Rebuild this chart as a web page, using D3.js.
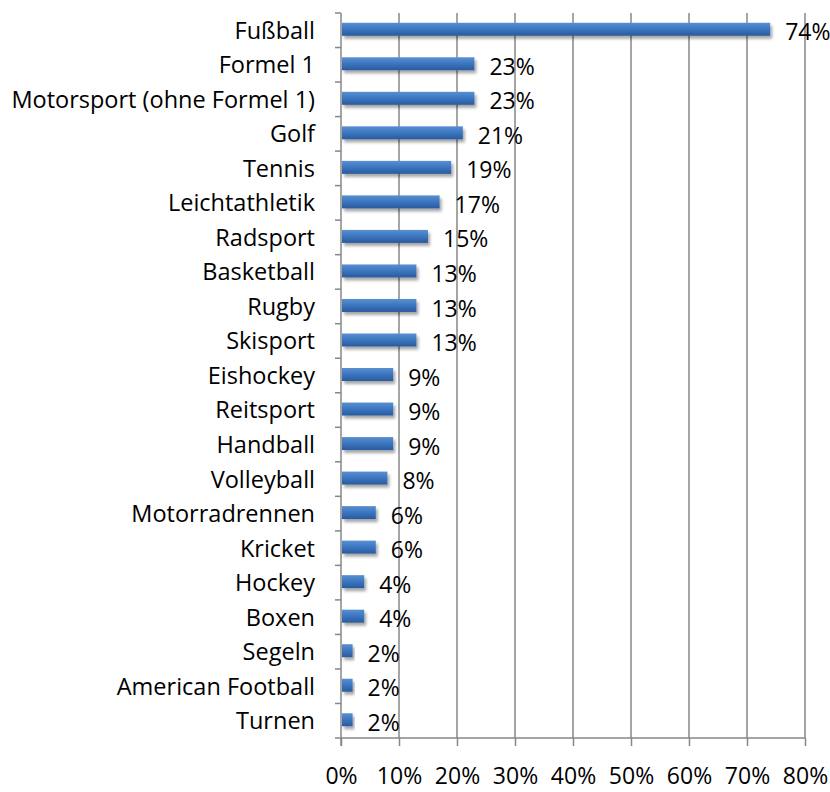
<!DOCTYPE html>
<html>
<head>
<meta charset="utf-8">
<script src="https://cdn.jsdelivr.net/npm/d3@7"></script>
<style>
  body { margin: 0; background: #fff; }
  svg text { font-family: "Open Sans", sans-serif; fill: #000; }
</style>
</head>
<body>
<div id="chart"></div>
<script>
// Sport categories, top to bottom.
var sports = ['Fußball', 'Formel 1', 'Motorsport (ohne Formel 1)', 'Golf', 'Tennis',
    'Leichtathletik', 'Radsport', 'Basketball', 'Rugby', 'Skisport', 'Eishockey',
    'Reitsport', 'Handball', 'Volleyball', 'Motorradrennen', 'Kricket', 'Hockey',
    'Boxen', 'Segeln', 'American Football', 'Turnen'];
var shares = [74, 23, 23, 21, 19, 17, 15, 13, 13, 13, 9, 9, 9, 8, 6, 6, 4, 4, 2, 2, 2];
var xTicks = [0, 10, 20, 30, 40, 50, 60, 70, 80];

var width = 830, height = 792;
var margin = {top: 13, right: 25, bottom: 54, left: 341};
var fontSize = '23px';

var svg = d3.select('#chart').append('svg')
    .attr('width', width)
    .attr('height', height);

var defs = svg.append('defs');
var grad = defs.append('linearGradient')
    .attr('id', 'barGrad')
    .attr('x1', 0).attr('y1', 0).attr('x2', 0).attr('y2', 1);
grad.append('stop').attr('offset', '0%').attr('stop-color', '#5a8fd2');
grad.append('stop').attr('offset', '45%').attr('stop-color', '#3d78c2');
grad.append('stop').attr('offset', '100%').attr('stop-color', '#2a5a9c');

var shadow = defs.append('filter').attr('id', 'shadow')
    .attr('x', '-20%').attr('y', '-50%').attr('width', '140%').attr('height', '250%');
shadow.append('feGaussianBlur').attr('in', 'SourceAlpha').attr('stdDeviation', 1.6);
shadow.append('feOffset').attr('dx', 1.5).attr('dy', 2.5).attr('result', 'off');
shadow.append('feComponentTransfer').append('feFuncA').attr('type', 'linear').attr('slope', 0.35);
var merge = shadow.append('feMerge');
merge.append('feMergeNode');
merge.append('feMergeNode').attr('in', 'SourceGraphic');

var x = d3.scaleLinear()
    .domain([0, 80])
    .range([margin.left, width - margin.right]);

var y = d3.scaleBand()
    .domain(sports)
    .range([margin.top, height - margin.bottom]);

var gridColor = '#878787';

// Vertical gridlines.
svg.append('g')
    .selectAll('line')
    .data(xTicks.slice(1))
    .enter()
    .append('line')
    .attr('x1', function(d) { return x(d); })
    .attr('x2', function(d) { return x(d); })
    .attr('y1', margin.top)
    .attr('y2', height - margin.bottom)
    .style('stroke', gridColor)
    .style('stroke-width', 1.5);

// Bottom axis.
var xAxis = svg.append('g')
    .attr('transform', 'translate(0,' + (height - margin.bottom) + ')')
    .call(d3.axisBottom(x)
        .tickValues(xTicks)
        .tickSize(8)
        .tickPadding(22)
        .tickFormat(function(d) { return d + '%'; }));
xAxis.select('.domain').style('stroke', gridColor).style('stroke-width', 1.5)
    .attr('d', 'M' + x(0) + ',0H' + x(80));
xAxis.selectAll('.tick line').style('stroke', gridColor).style('stroke-width', 1.5);
xAxis.selectAll('.tick text')
    .style('font-size', fontSize)
    .style('font-family', '"Open Sans", sans-serif')
    .attr('fill', '#000');

// Left axis with category ticks between bands.
var yAxisG = svg.append('g');
yAxisG.append('line')
    .attr('x1', x(0)).attr('x2', x(0))
    .attr('y1', margin.top).attr('y2', height - margin.bottom + 8)
    .style('stroke', gridColor)
    .style('stroke-width', 1.5);
yAxisG.selectAll('.ytick')
    .data(sports)
    .enter()
    .append('line')
    .attr('x1', x(0) - 6).attr('x2', x(0))
    .attr('y1', function(d) { return y(d); })
    .attr('y2', function(d) { return y(d); })
    .style('stroke', gridColor)
    .style('stroke-width', 1.5);
yAxisG.append('line')
    .attr('x1', x(0) - 6).attr('x2', x(0))
    .attr('y1', height - margin.bottom).attr('y2', height - margin.bottom)
    .style('stroke', gridColor)
    .style('stroke-width', 1.5);

// Category labels.
svg.append('g')
    .selectAll('text')
    .data(sports)
    .enter()
    .append('text')
    .attr('x', x(0) - 26)
    .attr('y', function(d) { return y(d) + y.bandwidth() / 2; })
    .attr('dy', '.36em')
    .style('text-anchor', 'end')
    .style('font-size', '23.5px')
    .text(function(d) { return d; });

// Bars.
var barH = 13;
svg.append('g')
    .selectAll('rect')
    .data(sports)
    .enter()
    .append('rect')
    .attr('x', x(0) + 1)
    .attr('y', function(d) { return y(d) + y.bandwidth() / 2 - barH / 2 - 1; })
    .attr('width', function(d, i) { return x(shares[i]) - x(0) - 1; })
    .attr('height', barH)
    .attr('fill', 'url(#barGrad)')
    .attr('filter', 'url(#shadow)');

// Value labels.
svg.append('g')
    .selectAll('text')
    .data(sports)
    .enter()
    .append('text')
    .attr('x', function(d, i) { return x(shares[i]) + 15; })
    .attr('y', function(d) { return y(d) + y.bandwidth() / 2 + 2; })
    .attr('dy', '.35em')
    .style('font-size', fontSize)
    .text(function(d, i) { return shares[i] + '%'; });
</script>
</body>
</html>
